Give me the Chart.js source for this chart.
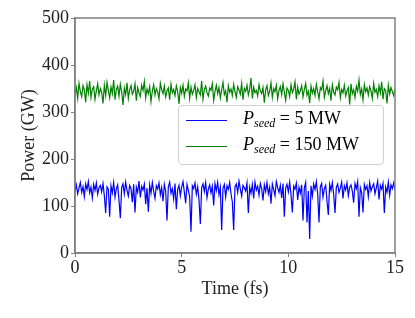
<!DOCTYPE html>
<html>
<head>
<meta charset="utf-8">
<script src="https://cdn.jsdelivr.net/npm/chart.js@4"></script>
<style>
  html, body { margin: 0; padding: 0; background: #fff; }
  #wrap { position: relative; width: 415px; height: 318px; }
  #legend {
    position: absolute; left: 178px; top: 105px; width: 204px; height: 58px;
    border: 1px solid #d0d0d0; border-radius: 4px; background: rgba(255,255,255,0.8);
    font-family: "Liberation Serif", serif; font-size: 18px; color: #000;
  }
  #legend .row { position: absolute; left: 0; height: 24px; line-height: 24px; }
  #legend .sw { position: absolute; left: 7px; top: 14px; width: 41px; height: 1px; }
  #legend .tx { position: absolute; left: 64px; white-space: nowrap; }
  #legend sub { font-size: 12px; font-style: italic; vertical-align: -3px; }
</style>
</head>
<body>
<div id="wrap">
  <canvas id="chart-space" width="415" height="318"></canvas>
  <div id="legend">
    <div class="row" style="top:0px"><span class="sw" style="background:#0000ff"></span><span class="tx"><i>P</i><sub>seed</sub> = 5 MW</span></div>
    <div class="row" style="top:26px"><span class="sw" style="background:#008000"></span><span class="tx"><i>P</i><sub>seed</sub> = 150 MW</span></div>
  </div>
</div>
<script>
const seed5 = [
  132,145,126,138,150,129,141,120,147,135,152,128,140,117,146,133,149,125,139,144,
  130,148,122,85,141,136,77,143,128,150,119,137,145,112,74,139,147,126,151,133,
  121,144,137,108,146,86,140,129,153,118,142,134,147,104,138,88,145,127,150,131,
  116,143,136,149,124,139,110,146,132,69,141,151,127,137,115,148,93,135,144,122,
  140,152,130,106,146,134,120,45,143,137,149,125,141,113,62,139,147,131,150,118,
  136,145,128,142,101,148,133,151,124,140,49,138,146,119,143,135,150,126,109,49,
  141,147,129,153,136,121,144,139,132,149,85,140,127,146,116,151,134,142,123,148,
  137,112,145,131,150,126,140,105,147,135,122,152,139,129,144,117,148,77,138,146,
  130,151,124,86,142,136,149,113,140,127,145,69,138,150,65,132,30,143,121,147,
  135,152,126,65,141,148,119,137,144,110,81,146,133,150,125,85,140,147,129,138,
  151,116,143,134,149,122,140,145,131,107,148,137,152,77,139,128,86,146,135,143,
  120,150,132,141,147,126,139,153,114,144,136,148,85,140,129,151,123,145,137,149,
  134
];
const seed150 = [
  338,352,329,361,344,333,356,347,321,358,340,366,331,349,354,327,345,360,336,350,
  342,318,357,335,363,346,330,353,339,368,326,348,355,334,359,343,315,351,337,362,
  329,347,356,338,344,360,324,352,341,333,357,346,365,330,349,339,354,322,345,358,
  336,350,343,328,361,347,339,355,332,345,351,326,359,341,348,335,356,344,317,352,
  340,357,333,349,345,362,329,353,338,346,358,331,350,343,336,366,327,348,355,341,
  334,351,346,360,325,344,357,339,352,330,347,363,337,345,321,356,342,349,335,359,
  343,331,354,347,338,361,326,350,344,357,336,348,372,329,353,341,346,334,358,345,
  339,352,320,347,356,335,344,362,331,350,343,357,328,346,354,337,360,342,325,351,
  346,333,358,341,349,364,327,353,338,345,356,332,348,361,336,344,319,355,340,350,
  335,359,343,328,352,347,366,331,345,356,339,350,324,358,342,336,353,347,363,330,
  348,341,357,334,345,352,316,360,339,347,331,355,344,368,337,349,326,358,343,351,
  336,354,345,329,361,342,348,333,356,340,364,327,350,346,318,357,338,352,344,335,
  349
];
const tMax = 15;
const xTicks = [0, 5, 10, 15];
const yTicks = [0, 100, 200, 300, 400, 500];

const toPoints = vals => vals.map((v, i) => ({ x: i * tMax / (vals.length - 1), y: v }));

const spine = '#808080';
const font = { family: 'Liberation Serif', size: 18 };

// box around the plot area (matplotlib style spines)
const frame = {
  id: 'frame',
  afterDatasetsDraw(chart) {
    const { ctx, chartArea: a } = chart;
    ctx.save();
    ctx.strokeStyle = spine;
    ctx.lineWidth = 1.5;
    ctx.strokeRect(a.left, a.top, a.right - a.left, a.bottom - a.top);
    ctx.restore();
  }
};

new Chart(document.getElementById('chart-space'), {
  type: 'line',
  data: {
    datasets: [
      { label: 'P_seed = 5 MW', data: toPoints(seed5), borderColor: '#0000ff', borderWidth: 1.2, pointRadius: 0, tension: 0 },
      { label: 'P_seed = 150 MW', data: toPoints(seed150), borderColor: '#008000', borderWidth: 1.2, pointRadius: 0, tension: 0 }
    ]
  },
  options: {
    responsive: false,
    animation: false,
    layout: { padding: { top: 18, right: 20, left: 0, bottom: 0 } },
    plugins: { legend: { display: false }, tooltip: { enabled: false } },
    scales: {
      x: {
        type: 'linear', min: 0, max: tMax,
        afterBuildTicks: s => { s.ticks = xTicks.map(v => ({ value: v })); },
        afterFit: s => { s.height = 65; },
        grid: { drawOnChartArea: false, color: spine, tickLength: 4 },
        border: { color: spine, width: 1.5 },
        ticks: { color: '#222', font: font, padding: 0, maxRotation: 0 },
        title: { display: true, text: 'Time (fs)', color: '#222', font: font, padding: 18 }
      },
      y: {
        min: 0, max: 500,
        afterBuildTicks: s => { s.ticks = yTicks.map(v => ({ value: v })); },
        afterFit: s => { s.width = 75; },
        grid: { drawOnChartArea: false, color: spine, tickLength: 4 },
        border: { color: spine, width: 1.5 },
        ticks: { color: '#222', font: font, padding: 2 },
        title: { display: true, text: 'Power (GW)', color: '#222', font: font, padding: 18 }
      }
    }
  },
  plugins: [frame]
});
</script>
</body>
</html>
